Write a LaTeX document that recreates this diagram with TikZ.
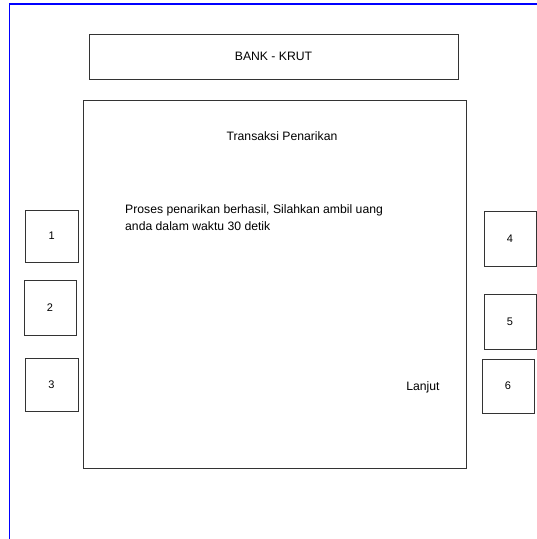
\documentclass[tikz,border=0pt]{standalone}
\usepackage{fontspec}
\setmainfont{Liberation Sans}
\begin{document}
\begin{tikzpicture}[x=1pt,y=-1pt,
  frame/.style={draw=black!80,line width=0.9pt,rectangle,inner sep=0pt},
  keybtn/.style={frame,minimum width=52pt,minimum height=54pt},
  lbl/.style={inner sep=0pt,font=\fontsize{12.2}{17}\selectfont}]
\useasboundingbox (0,0) rectangle (537,539);
% page guides
\draw[blue,line width=1.1pt] (537,4) -- (9.5,4) -- (9.5,539);
% header and screen
\node[frame,minimum width=369pt,minimum height=45pt] (header) at (273.5,56.5) {};
\node[frame,minimum width=383pt,minimum height=368.5pt] (screen) at (274.5,284.25) {};
\node[lbl] (bank) at (header.center) {BANK - KRUT};
\node[lbl] (title) at (282,136) {Transaksi Penarikan};
\node[lbl,anchor=west,align=left] (msg) at (125,217.5) {Proses penarikan berhasil, Silahkan ambil uang\\anda dalam waktu 30 detik};
\node[lbl] (next) at (423,387) {Lanjut};
% side keys
\node[keybtn,minimum width=53pt,minimum height=52pt] (k1) at (51.6,236) {};
\node[keybtn,minimum height=55pt] (k2) at (50,307.5) {};
\node[keybtn,minimum width=53pt,minimum height=53pt] (k3) at (51.5,384.5) {};
\node[keybtn,minimum height=55pt] (k4) at (510,238.5) {};
\node[keybtn,minimum height=55pt] (k5) at (510,321.5) {};
\node[keybtn] (k6) at (508,386) {};
\foreach \k/\t in {k1/1,k2/2,k3/3,k4/4,k5/5,k6/6}
  \node[lbl,font=\fontsize{11}{13}\selectfont] at (\k.center) {\t};
\end{tikzpicture}
\end{document}
